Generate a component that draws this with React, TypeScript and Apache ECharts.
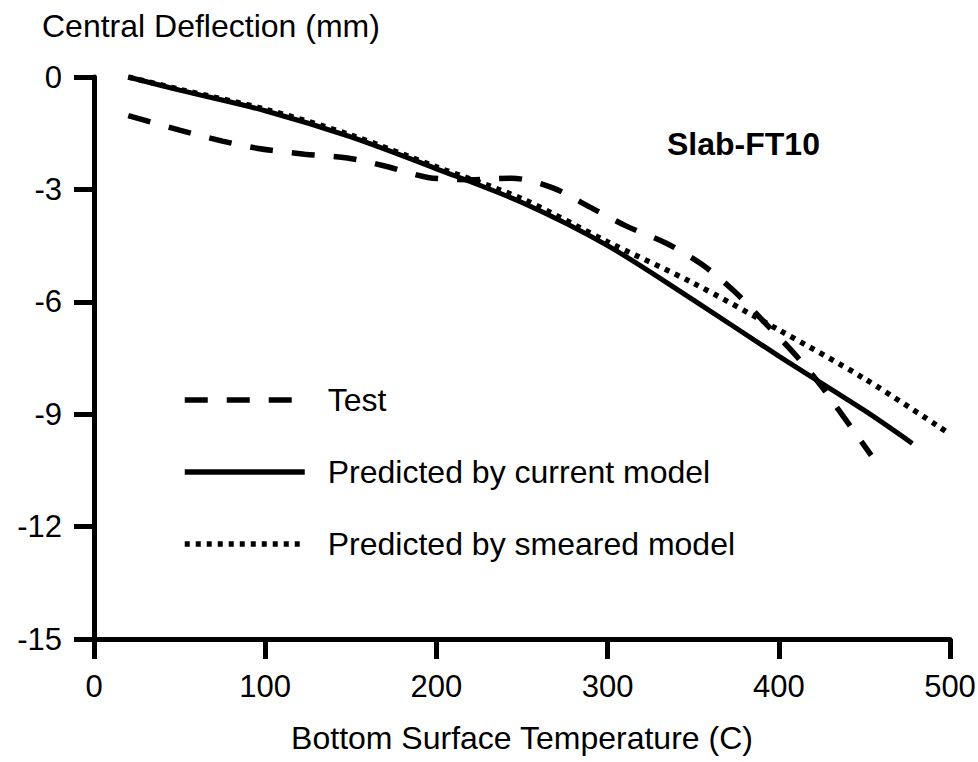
import React, { useEffect, useRef } from "react";
import * as echarts from "echarts";

const FONT = "'Liberation Sans', Arial, Helvetica, sans-serif";

const seriesNames = ["Test", "Predicted by current model", "Predicted by smeared model"];

const testX = [20, 50, 75, 95, 123, 148, 171, 195, 220, 244, 268, 290, 311, 334, 355, 374, 391, 408, 424, 438, 454];
const testY = [-1.03, -1.42, -1.71, -1.9, -2.06, -2.16, -2.39, -2.68, -2.74, -2.7, -2.96, -3.48, -3.98, -4.43, -5.0, -5.72, -6.52, -7.33, -8.2, -9.08, -10.1];

const currentX = [20, 50, 100, 150, 200, 250, 300, 350, 400, 450, 478];
const currentY = [0, -0.35, -0.9, -1.6, -2.45, -3.35, -4.5, -5.95, -7.45, -8.9, -9.78];

const smearedX = [20, 50, 100, 150, 200, 250, 300, 350, 400, 450, 498];
const smearedY = [0, -0.33, -0.86, -1.55, -2.4, -3.25, -4.4, -5.5, -6.75, -8.05, -9.47];

const xTicks = { min: 0, max: 500, interval: 100 };
const yTicks = { min: -15, max: 0, interval: 3 };

const yTitle = "Central Deflection (mm)";
const xTitle = "Bottom Surface Temperature (C)";
const panelLabel = "Slab-FT10";

const zip = (xs: number[], ys: number[]) => xs.map((x, i) => [x, ys[i]]);

export default function App() {
  const ref = useRef<HTMLDivElement>(null);
  useEffect(() => {
    if (!ref.current) return;
    const chart = echarts.init(ref.current, null, { renderer: "svg" });
    const axisCommon = {
      axisTick: { show: true, length: 20, lineStyle: { color: "#000", width: 5 } },
      splitLine: { show: false },
    };
    chart.setOption({
      animation: false,
      backgroundColor: "#fff",
      textStyle: { fontFamily: FONT },
      title: [
        {
          text: yTitle,
          left: 42,
          top: 10,
          padding: 0,
          textStyle: { fontFamily: FONT, fontSize: 32, fontWeight: "normal", color: "#000" },
        },
        {
          text: panelLabel,
          left: 667,
          top: 128,
          padding: 0,
          textStyle: { fontFamily: FONT, fontSize: 32, fontWeight: "bold", color: "#000" },
        },
      ],
      legend: {
        orient: "vertical",
        left: 182,
        top: 384,
        itemWidth: 120,
        itemHeight: 30,
        itemGap: 40,
        padding: 0,
        data: seriesNames,
        lineStyle: { width: 5.5 },
        itemStyle: { opacity: 0 },
        textStyle: { fontFamily: FONT, fontSize: 32, color: "#000", lineHeight: 30, padding: [0, 0, 0, 18] },
      },
      grid: { left: 94, right: 28, top: 77, bottom: 123, outerBoundsMode: "none" },
      xAxis: {
        type: "value",
        ...xTicks,
        name: xTitle,
        nameLocation: "middle",
        nameGap: 83,
        nameTextStyle: { fontFamily: FONT, fontSize: 32, color: "#000" },
        axisLine: { show: true, onZero: false, lineStyle: { color: "#000", width: 5 } },
        ...axisCommon,
        axisLabel: { fontFamily: FONT, fontSize: 31, color: "#000", margin: 32 },
      },
      yAxis: {
        type: "value",
        ...yTicks,
        axisLine: { show: true, onZero: false, lineStyle: { color: "#000", width: 5 } },
        ...axisCommon,
        axisLabel: { fontFamily: FONT, fontSize: 31, color: "#000", margin: 32 },
      },
      series: [
        {
          name: seriesNames[0],
          type: "line",
          data: zip(testX, testY),
          smooth: 0.3,
          symbol: "none",
          itemStyle: { color: "#000" },
          lineStyle: { color: "#000", width: 5.5, type: [23, 19] },
        },
        {
          name: seriesNames[1],
          type: "line",
          data: zip(currentX, currentY),
          smooth: 0.3,
          symbol: "none",
          itemStyle: { color: "#000" },
          lineStyle: { color: "#000", width: 5, type: "solid" },
        },
        {
          name: seriesNames[2],
          type: "line",
          data: zip(smearedX, smearedY),
          smooth: 0.3,
          symbol: "none",
          itemStyle: { color: "#000" },
          lineStyle: { color: "#000", width: 5.5, type: [5, 6] },
        },
      ],
    });
    return () => chart.dispose();
  }, []);
  return <div ref={ref} style={{ width: 978, height: 762, position: "absolute", left: 0, top: 0 }} />;
}
